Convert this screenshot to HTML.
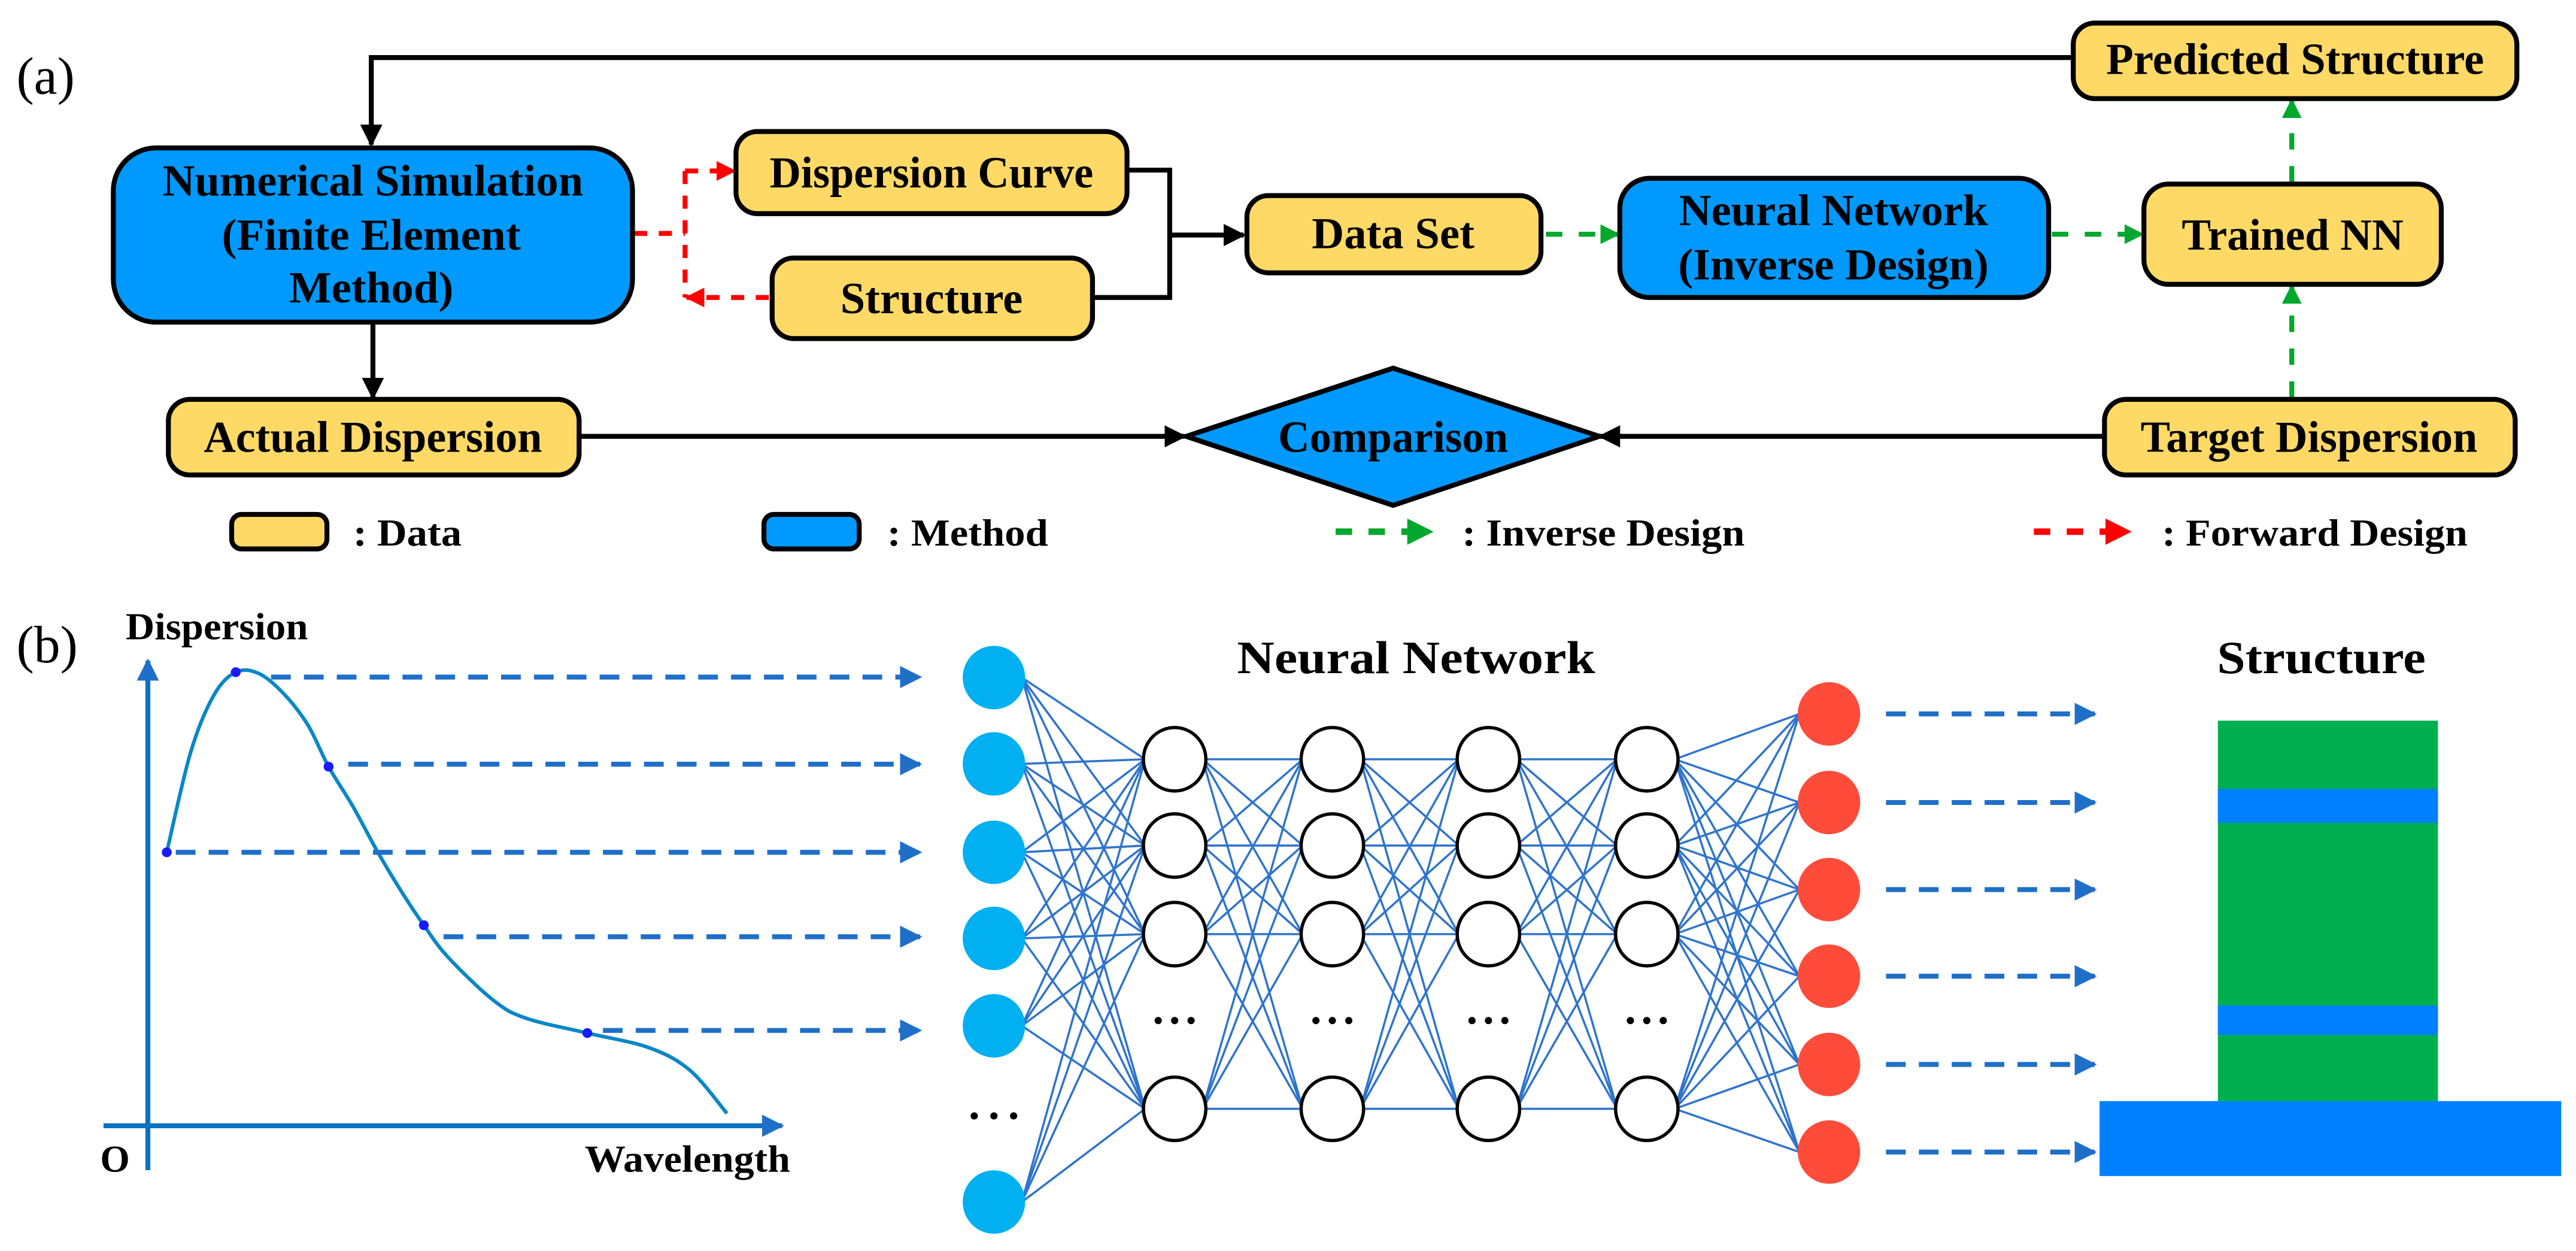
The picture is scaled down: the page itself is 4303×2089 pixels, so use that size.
<!DOCTYPE html>
<html><head><meta charset="utf-8"><style>
html,body{margin:0;padding:0;background:#fff;}
svg{display:block;}
text{font-family:"Liberation Serif","DejaVu Serif",serif;font-weight:bold;fill:#000;}
</style></head><body>
<svg id="s" xmlns="http://www.w3.org/2000/svg" width="4303" height="2089" viewBox="0 0 1568 761.2">
<defs>
<marker id="ab" viewBox="0 0 10 10" refX="9" refY="5" markerWidth="4.5" markerHeight="4.5" orient="auto" markerUnits="strokeWidth"><path d="M0,0L10,5L0,10z" fill="#000"/></marker>
<marker id="ar" viewBox="0 0 10 10" refX="9" refY="5" markerWidth="4" markerHeight="4" orient="auto" markerUnits="strokeWidth"><path d="M0,0L10,5L0,10z" fill="#f00"/></marker>
<marker id="ag" viewBox="0 0 10 10" refX="9" refY="5" markerWidth="4" markerHeight="4" orient="auto" markerUnits="strokeWidth"><path d="M0,0L10,5L0,10z" fill="#00a82d"/></marker>
<marker id="al" viewBox="0 0 10 10" refX="9" refY="5" markerWidth="4.5" markerHeight="5" orient="auto" markerUnits="strokeWidth"><path d="M0,0L10,5L0,10z" fill="#1f6fc9"/></marker>
</defs>
<rect width="1568" height="761.2" fill="#fff"/>

<text x="10" y="57" font-size="32" style="font-weight:normal">(a)</text>

<g stroke="#000" stroke-width="3" fill="none">
<polyline points="1262,35 226,35 226,88" marker-end="url(#ab)"/>
<polyline points="686,103.5 712,103.5 712,181 665,181"/>
<line x1="712" y1="143" x2="757" y2="143" marker-end="url(#ab)"/>
<line x1="227" y1="196" x2="227" y2="242" marker-end="url(#ab)"/>
<line x1="352" y1="265.5" x2="721" y2="265.5" marker-end="url(#ab)"/>
<line x1="1281" y1="265.5" x2="974" y2="265.5" marker-end="url(#ab)"/>
</g>

<g stroke="#f00" stroke-width="3" fill="none" stroke-dasharray="8,7">
<line x1="386" y1="142" x2="417" y2="142"/>
<line x1="417" y1="104" x2="417" y2="181"/>
<line x1="417" y1="104" x2="447" y2="104" marker-end="url(#ar)"/>
<line x1="468" y1="181" x2="418" y2="181" marker-end="url(#ar)"/>
</g>
<g stroke="#00a82d" stroke-width="3" fill="none" stroke-dasharray="10,10">
<line x1="941" y1="142.5" x2="985" y2="142.5" marker-end="url(#ag)"/>
<line x1="1249" y1="142.5" x2="1304" y2="142.5" marker-end="url(#ag)"/>
<line x1="1395" y1="111" x2="1395" y2="61" marker-end="url(#ag)"/>
<line x1="1395" y1="242" x2="1395" y2="174" marker-end="url(#ag)"/>
</g>

<g stroke="#000" stroke-width="3">
<rect x="69" y="90" width="316" height="106" rx="26" fill="#0099ff"/>
<rect x="448" y="80" width="238" height="50" rx="13" fill="#ffd966"/>
<rect x="470" y="157" width="195" height="49" rx="13" fill="#ffd966"/>
<rect x="759" y="119" width="179" height="47" rx="13" fill="#ffd966"/>
<rect x="986" y="108.5" width="261" height="72.5" rx="18" fill="#0099ff"/>
<rect x="1305" y="112" width="181" height="61" rx="15" fill="#ffd966"/>
<rect x="1262" y="14" width="270" height="46" rx="13" fill="#ffd966"/>
<rect x="102.5" y="243" width="250" height="46" rx="13" fill="#ffd966"/>
<rect x="1281" y="243" width="250" height="46" rx="13" fill="#ffd966"/>
<polygon points="722,265.5 848,224 973.5,265.5 848,307.5" fill="#0099ff"/>
<rect x="141" y="313" width="58" height="21" rx="6" fill="#ffd966"/>
<rect x="465" y="313" width="58" height="21" rx="6" fill="#0099ff"/>
</g>

<g font-size="27" text-anchor="middle">
<text x="227" y="119" textLength="256" lengthAdjust="spacingAndGlyphs">Numerical Simulation</text>
<text x="226" y="152" textLength="182" lengthAdjust="spacingAndGlyphs">(Finite Element</text>
<text x="226" y="184" textLength="100" lengthAdjust="spacingAndGlyphs">Method)</text>
<text x="567" y="114" textLength="197" lengthAdjust="spacingAndGlyphs">Dispersion Curve</text>
<text x="567" y="190.5" textLength="111" lengthAdjust="spacingAndGlyphs">Structure</text>
<text x="848" y="151" textLength="99" lengthAdjust="spacingAndGlyphs">Data Set</text>
<text x="1116" y="137" textLength="188" lengthAdjust="spacingAndGlyphs">Neural Network</text>
<text x="1116" y="170" textLength="189" lengthAdjust="spacingAndGlyphs">(Inverse Design)</text>
<text x="1395.5" y="152" textLength="135" lengthAdjust="spacingAndGlyphs">Trained NN</text>
<text x="1397" y="45" textLength="230" lengthAdjust="spacingAndGlyphs">Predicted Structure</text>
<text x="227" y="275" textLength="206" lengthAdjust="spacingAndGlyphs">Actual Dispersion</text>
<text x="1405.5" y="275" textLength="205" lengthAdjust="spacingAndGlyphs">Target Dispersion</text>
<text x="848" y="275" textLength="140" lengthAdjust="spacingAndGlyphs">Comparison</text>
</g>

<g font-size="23">
<text x="215" y="332" textLength="66" lengthAdjust="spacingAndGlyphs">: Data</text>
<text x="540" y="332" textLength="98" lengthAdjust="spacingAndGlyphs">: Method</text>
<text x="890" y="332" textLength="172" lengthAdjust="spacingAndGlyphs">: Inverse Design</text>
<text x="1316" y="332" textLength="186" lengthAdjust="spacingAndGlyphs">: Forward Design</text>
</g>
<line x1="813" y1="323.5" x2="871" y2="323.5" stroke="#00a82d" stroke-width="4" stroke-dasharray="10,10" marker-end="url(#ag)"/>
<line x1="1238" y1="323.5" x2="1296" y2="323.5" stroke="#f00" stroke-width="4" stroke-dasharray="10,10" marker-end="url(#ar)"/>

<text x="10" y="403" font-size="32" style="font-weight:normal">(b)</text>
<text x="76.5" y="389" font-size="23" textLength="111" lengthAdjust="spacingAndGlyphs">Dispersion</text>
<text x="356" y="713" font-size="23" textLength="125" lengthAdjust="spacingAndGlyphs">Wavelength</text>
<text x="61" y="713" font-size="23" textLength="18" lengthAdjust="spacingAndGlyphs">O</text>
<g stroke="#0a72c0" stroke-width="3" fill="none">
<line x1="90" y1="712" x2="90" y2="402" marker-end="url(#al)"/>
<line x1="63" y1="685" x2="476" y2="685" marker-end="url(#al)"/>
</g>
<path id="curve" d="" fill="none" stroke="#0a87c6" stroke-width="2.2"/>
<g fill="#1a1aff">
<circle cx="101.5" cy="518.6" r="3"/><circle cx="143.5" cy="409" r="3"/><circle cx="200" cy="466.5" r="3"/><circle cx="258" cy="563" r="3"/><circle cx="357.5" cy="628.6" r="3"/>
</g>
<g stroke="#1f6fc9" stroke-width="3" fill="none" stroke-dasharray="12,8">
<line x1="165" y1="412" x2="560" y2="412" marker-end="url(#al)"/>
<line x1="212" y1="465" x2="560" y2="465" marker-end="url(#al)"/>
<line x1="107" y1="518.6" x2="560" y2="518.6" marker-end="url(#al)"/>
<line x1="270" y1="570" x2="560" y2="570" marker-end="url(#al)"/>
<line x1="367" y1="627" x2="560" y2="627" marker-end="url(#al)"/>
</g>
<g stroke="#1f6fc9" stroke-width="3" fill="none" stroke-dasharray="12,8">
<line x1="1148" y1="434.4" x2="1275" y2="434.4" marker-end="url(#al)"/>
<line x1="1148" y1="488.3" x2="1275" y2="488.3" marker-end="url(#al)"/>
<line x1="1148" y1="541.3" x2="1275" y2="541.3" marker-end="url(#al)"/>
<line x1="1148" y1="594" x2="1275" y2="594" marker-end="url(#al)"/>
<line x1="1148" y1="647.7" x2="1275" y2="647.7" marker-end="url(#al)"/>
<line x1="1148" y1="701" x2="1275" y2="701" marker-end="url(#al)"/>
</g>

<text x="862" y="409.5" font-size="28" text-anchor="middle" textLength="218" lengthAdjust="spacingAndGlyphs">Neural Network</text>
<text x="1413" y="409.5" font-size="28" text-anchor="middle" textLength="127" lengthAdjust="spacingAndGlyphs">Structure</text>

<g id="nn"></g>

<rect x="1350" y="438.5" width="134" height="232" fill="#00b050"/>
<rect x="1350" y="480" width="134" height="20.7" fill="#0080ff"/>
<rect x="1350" y="611.8" width="134" height="18" fill="#0080ff"/>
<rect x="1278" y="670" width="281" height="45.6" fill="#0080ff"/>
</svg>
<script>
(function(){
var P=[[101.5,518.6],[116,457.9],[130,423.3],[143.5,409],[157.5,409.8],[172.5,421.9],[187.5,441.3],[200,466.5],[215,491],[230,518.6],[245,543.5],[258,563],[272.5,582.2],[300,608.4],[320,619.5],[357.5,628.6],[395,637.5],[420,651.3],[442.5,677.5]];
var d="M"+P[0][0]+","+P[0][1];
for(var i=0;i<P.length-1;i++){
 var p0=P[i>0?i-1:0],p1=P[i],p2=P[i+1],p3=P[i+2<P.length?i+2:i+1];
 var c1x=p1[0]+(p2[0]-p0[0])/6,c1y=p1[1]+(p2[1]-p0[1])/6;
 var c2x=p2[0]-(p3[0]-p1[0])/6,c2y=p2[1]-(p3[1]-p1[1])/6;
 d+=" C"+c1x.toFixed(2)+","+c1y.toFixed(2)+" "+c2x.toFixed(2)+","+c2y.toFixed(2)+" "+p2[0]+","+p2[1];
}
document.getElementById("curve").setAttribute("d",d);
var ns="http://www.w3.org/2000/svg",g=document.getElementById("nn");
function el(t,a){var e=document.createElementNS(ns,t);for(var k in a)e.setAttribute(k,a[k]);g.appendChild(e);return e;}
var rx=19,ry=19.3;
var inp=[412.3,464.8,518.6,571,624.2,731.4];
var hid=[462,514.5,568.4,674.7];
var out=[434.4,488.3,541.3,594,647.7,701];
var hx=[715,811,906,1002.4];
var layers=[{x:605,y:inp}];
hx.forEach(function(x){layers.push({x:x,y:hid});});
layers.push({x:1113.3,y:out});
for(var l=0;l<layers.length-1;l++){
 var A=layers[l],B=layers[l+1];
 A.y.forEach(function(ya){B.y.forEach(function(yb){
  el("line",{x1:A.x+rx-2,y1:ya,x2:B.x-rx+1,y2:yb,stroke:"#2f74cc","stroke-width":1.3});
 });});
}
inp.forEach(function(y){el("ellipse",{cx:605,cy:y,rx:rx,ry:ry,fill:"#00b0f0"});});
hx.forEach(function(x){hid.forEach(function(y){el("ellipse",{cx:x,cy:y,rx:rx,ry:ry,fill:"#fff",stroke:"#000","stroke-width":2});});
 [-10,0,10].forEach(function(d){el("circle",{cx:x+d,cy:621,r:2.2,fill:"#000"});});});
[-12,0,12].forEach(function(d){el("circle",{cx:605+d,cy:679,r:2.2,fill:"#000"});});
out.forEach(function(y){el("ellipse",{cx:1113.3,cy:y,rx:rx,ry:ry,fill:"#ff4b3a"});});
})();
</script>
</body></html>
